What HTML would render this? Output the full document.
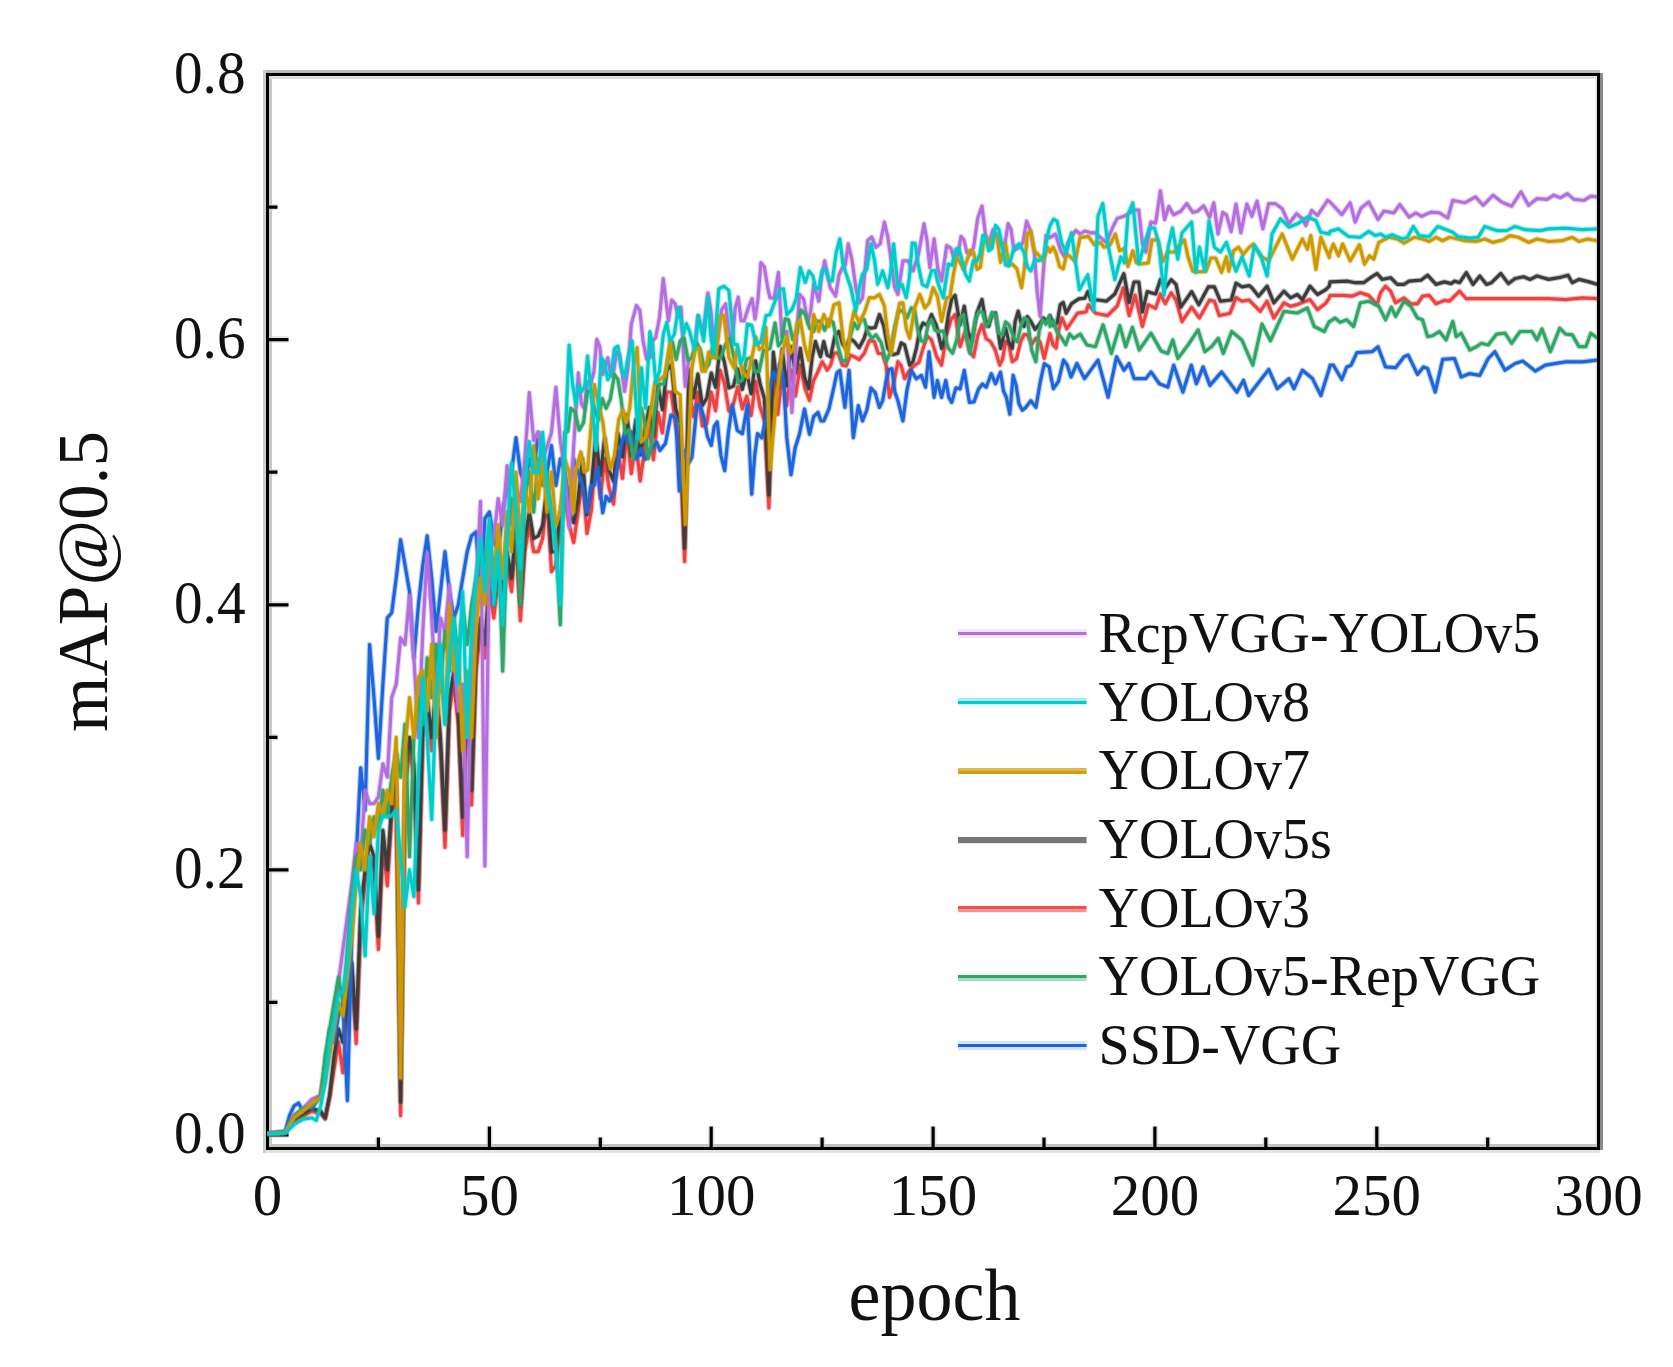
<!DOCTYPE html>
<html><head><meta charset="utf-8"><title>mAP@0.5 vs epoch</title>
<style>
html,body{margin:0;padding:0;background:#fff;}
body{width:1673px;height:1367px;overflow:hidden;}
svg{display:block;}
text{font-family:"Liberation Serif","Times New Roman",serif;fill:#111;}
</style></head><body>
<svg width="1673" height="1367" viewBox="0 0 1673 1367">
<rect x="0" y="0" width="1673" height="1367" fill="#ffffff"/>

<defs><clipPath id="pc"><rect x="266" y="76" width="1331" height="1071"/></clipPath></defs>
<rect x="263" y="70" width="3" height="1083" fill="#cdcdcd"/>
<rect x="269" y="76" width="3" height="1071" fill="#c8c8c8"/>
<rect x="266" y="70" width="1334" height="3" fill="#bbbbbb"/>
<rect x="269" y="76" width="1328" height="3" fill="#dddddd"/>
<rect x="1600" y="73" width="3" height="1077" fill="#8a8a8a"/>
<rect x="1595.5" y="76" width="1.5" height="1071" fill="#e4e4e4"/>
<rect x="269" y="1144" width="1328" height="3" fill="#c2c2c2"/>
<rect x="266" y="1150" width="1334" height="3" fill="#e2e2e2"/>
<path d="M267.5 1135.0 h21 M267.5 1002.4 h10 M267.5 869.9 h21 M267.5 737.3 h10 M267.5 604.8 h21 M267.5 472.2 h10 M267.5 339.6 h21 M267.5 207.1 h10 M378.4 1148.5 v-11 M489.4 1148.5 v-22 M600.3 1148.5 v-11 M711.2 1148.5 v-22 M822.1 1148.5 v-11 M933.1 1148.5 v-22 M1044.0 1148.5 v-11 M1154.9 1148.5 v-22 M1265.8 1148.5 v-11 M1376.8 1148.5 v-22 M1487.7 1148.5 v-11" stroke="#cfcfcf" stroke-width="6.5" fill="none" opacity="0.6"/>
<path d="M267.5 1135.0 h21 M267.5 1002.4 h10 M267.5 869.9 h21 M267.5 737.3 h10 M267.5 604.8 h21 M267.5 472.2 h10 M267.5 339.6 h21 M267.5 207.1 h10 M378.4 1148.5 v-11 M489.4 1148.5 v-22 M600.3 1148.5 v-11 M711.2 1148.5 v-22 M822.1 1148.5 v-11 M933.1 1148.5 v-22 M1044.0 1148.5 v-11 M1154.9 1148.5 v-22 M1265.8 1148.5 v-11 M1376.8 1148.5 v-22 M1487.7 1148.5 v-11" stroke="#000" stroke-width="3.2" fill="none"/>
<rect x="267.5" y="74.5" width="1331.0" height="1074.0" fill="none" stroke="#000" stroke-width="3"/>
<g clip-path="url(#pc)">
<polyline points="267.5,1133.7 285.2,1132.6 294.1,1121.7 303.0,1116.4 311.9,1111.1 320.7,1113.8 325.2,1119.1 329.6,1097.9 334.1,1068.7 338.5,1042.2 342.9,1072.7 347.4,1015.7 351.8,975.9 356.2,1043.5 360.7,922.9 365.1,883.1 369.6,856.6 374.0,869.9 378.4,949.4 382.9,843.4 387.3,885.8 391.7,816.9 396.2,790.3 400.6,1115.5 405.0,790.3 409.5,750.6 413.9,777.1 418.4,903.0 422.8,737.3 427.2,710.8 431.7,750.6 436.1,697.6 440.5,750.6 445.0,847.3 449.4,710.8 453.9,684.3 458.3,724.1 462.7,835.4 467.2,697.6 471.6,804.9 476.0,671.0 480.5,631.3 484.9,657.8 489.4,591.5 493.8,618.0 498.2,578.2 502.7,604.8 507.1,565.0 511.5,591.5 516.0,538.5 520.4,620.7 524.8,551.7 529.3,525.2 533.7,551.7 538.2,551.7 542.6,538.5 547.0,498.7 551.5,571.6 555.9,565.0 560.3,525.2 564.8,498.7 569.2,525.2 573.7,542.5 578.1,512.0 582.5,479.4 587.0,533.5 591.4,509.7 595.8,453.6 600.3,498.3 604.7,458.7 609.1,488.2 613.6,504.1 618.0,451.0 622.5,478.4 626.9,432.7 631.3,473.5 635.8,441.3 640.2,481.0 644.6,450.3 649.1,427.3 653.5,459.7 658.0,412.7 662.4,432.9 666.8,392.0 671.3,392.4 675.7,426.3 680.1,448.8 684.6,561.5 689.0,390.1 693.5,416.7 697.9,392.6 702.3,426.0 706.8,423.9 711.2,392.1 715.6,410.6 720.1,370.3 724.5,383.7 728.9,411.1 733.4,404.0 737.8,386.9 742.3,408.8 746.7,396.2 751.1,415.4 755.6,381.5 760.0,406.8 764.4,420.8 768.9,508.0 773.3,372.6 777.8,414.4 782.2,373.8 786.6,405.6 791.1,370.1 795.5,396.0 800.3,365.1 804.9,388.3 809.5,400.4 813.3,381.4 817.1,373.5 822.2,361.7 827.2,370.1 830.6,365.3 833.9,353.3 838.1,352.8 842.4,365.1 846.3,366.0 850.2,355.2 854.1,356.7 859.2,359.7 864.2,353.3 869.3,340.6 874.3,341.5 878.3,353.4 882.2,353.6 886.1,365.1 889.5,397.3 893.7,383.5 897.9,361.7 901.2,365.7 904.6,378.6 909.7,370.1 914.7,365.1 918.9,362.6 923.1,348.3 927.3,336.1 931.5,339.9 936.6,356.4 941.6,365.1 946.3,335.7 950.9,319.7 955.1,314.6 960.1,346.6 965.2,331.4 969.4,351.5 973.6,356.7 977.8,335.3 982.0,324.7 986.2,338.6 990.4,341.5 995.1,349.6 999.7,365.1 1002.6,359.0 1005.6,341.5 1008.9,345.0 1012.3,361.7 1016.5,358.7 1020.7,341.5 1024.1,334.5 1027.4,334.8 1031.7,344.1 1035.9,338.2 1040.1,342.1 1044.3,358.4 1049.3,336.5 1050.0,333.6 1053.0,344.9 1056.0,348.0 1059.0,328.4 1062.0,318.0 1066.8,328.8 1077.6,313.2 1086.0,312.0 1088.4,304.8 1095.6,313.2 1107.6,315.6 1117.2,306.0 1123.2,288.0 1129.2,315.6 1135.2,295.2 1142.4,326.4 1148.4,304.8 1155.6,308.4 1160.4,294.0 1165.2,303.6 1171.2,292.8 1176.0,300.0 1182.0,321.6 1191.6,307.2 1199.4,318.0 1209.6,300.0 1214.4,301.2 1219.2,315.6 1230.0,313.2 1236.0,297.6 1242.0,301.2 1249.2,300.0 1251.9,302.9 1260.3,311.3 1267.1,301.2 1273.8,318.1 1283.9,302.9 1290.6,306.3 1297.3,304.6 1310.0,299.6 1317.5,309.7 1326.0,302.9 1329.3,297.9 1330.0,295.4 1343.5,295.4 1351.9,296.2 1360.3,292.8 1368.7,295.4 1377.1,304.6 1380.5,292.8 1385.5,286.1 1390.6,291.2 1395.6,302.9 1404.0,297.9 1410.8,303.8 1417.5,303.8 1422.5,296.2 1429.3,295.4 1436.0,303.8 1444.4,300.4 1449.5,301.2 1459.6,291.2 1466.3,298.7 1481.4,298.7 1498.3,298.7 1515.1,298.7 1531.9,298.7 1548.7,298.7 1565.6,299.6 1582.4,297.9 1597.5,298.7" fill="none" stroke="#f04040" stroke-width="5.4" stroke-opacity="0.33" stroke-linejoin="round"/>
<polyline points="267.5,1133.7 285.2,1132.6 294.1,1121.7 303.0,1116.4 311.9,1111.1 320.7,1113.8 325.2,1119.1 329.6,1097.9 334.1,1068.7 338.5,1042.2 342.9,1072.7 347.4,1015.7 351.8,975.9 356.2,1043.5 360.7,922.9 365.1,883.1 369.6,856.6 374.0,869.9 378.4,949.4 382.9,843.4 387.3,885.8 391.7,816.9 396.2,790.3 400.6,1115.5 405.0,790.3 409.5,750.6 413.9,777.1 418.4,903.0 422.8,737.3 427.2,710.8 431.7,750.6 436.1,697.6 440.5,750.6 445.0,847.3 449.4,710.8 453.9,684.3 458.3,724.1 462.7,835.4 467.2,697.6 471.6,804.9 476.0,671.0 480.5,631.3 484.9,657.8 489.4,591.5 493.8,618.0 498.2,578.2 502.7,604.8 507.1,565.0 511.5,591.5 516.0,538.5 520.4,620.7 524.8,551.7 529.3,525.2 533.7,551.7 538.2,551.7 542.6,538.5 547.0,498.7 551.5,571.6 555.9,565.0 560.3,525.2 564.8,498.7 569.2,525.2 573.7,542.5 578.1,512.0 582.5,479.4 587.0,533.5 591.4,509.7 595.8,453.6 600.3,498.3 604.7,458.7 609.1,488.2 613.6,504.1 618.0,451.0 622.5,478.4 626.9,432.7 631.3,473.5 635.8,441.3 640.2,481.0 644.6,450.3 649.1,427.3 653.5,459.7 658.0,412.7 662.4,432.9 666.8,392.0 671.3,392.4 675.7,426.3 680.1,448.8 684.6,561.5 689.0,390.1 693.5,416.7 697.9,392.6 702.3,426.0 706.8,423.9 711.2,392.1 715.6,410.6 720.1,370.3 724.5,383.7 728.9,411.1 733.4,404.0 737.8,386.9 742.3,408.8 746.7,396.2 751.1,415.4 755.6,381.5 760.0,406.8 764.4,420.8 768.9,508.0 773.3,372.6 777.8,414.4 782.2,373.8 786.6,405.6 791.1,370.1 795.5,396.0 800.3,365.1 804.9,388.3 809.5,400.4 813.3,381.4 817.1,373.5 822.2,361.7 827.2,370.1 830.6,365.3 833.9,353.3 838.1,352.8 842.4,365.1 846.3,366.0 850.2,355.2 854.1,356.7 859.2,359.7 864.2,353.3 869.3,340.6 874.3,341.5 878.3,353.4 882.2,353.6 886.1,365.1 889.5,397.3 893.7,383.5 897.9,361.7 901.2,365.7 904.6,378.6 909.7,370.1 914.7,365.1 918.9,362.6 923.1,348.3 927.3,336.1 931.5,339.9 936.6,356.4 941.6,365.1 946.3,335.7 950.9,319.7 955.1,314.6 960.1,346.6 965.2,331.4 969.4,351.5 973.6,356.7 977.8,335.3 982.0,324.7 986.2,338.6 990.4,341.5 995.1,349.6 999.7,365.1 1002.6,359.0 1005.6,341.5 1008.9,345.0 1012.3,361.7 1016.5,358.7 1020.7,341.5 1024.1,334.5 1027.4,334.8 1031.7,344.1 1035.9,338.2 1040.1,342.1 1044.3,358.4 1049.3,336.5 1050.0,333.6 1053.0,344.9 1056.0,348.0 1059.0,328.4 1062.0,318.0 1066.8,328.8 1077.6,313.2 1086.0,312.0 1088.4,304.8 1095.6,313.2 1107.6,315.6 1117.2,306.0 1123.2,288.0 1129.2,315.6 1135.2,295.2 1142.4,326.4 1148.4,304.8 1155.6,308.4 1160.4,294.0 1165.2,303.6 1171.2,292.8 1176.0,300.0 1182.0,321.6 1191.6,307.2 1199.4,318.0 1209.6,300.0 1214.4,301.2 1219.2,315.6 1230.0,313.2 1236.0,297.6 1242.0,301.2 1249.2,300.0 1251.9,302.9 1260.3,311.3 1267.1,301.2 1273.8,318.1 1283.9,302.9 1290.6,306.3 1297.3,304.6 1310.0,299.6 1317.5,309.7 1326.0,302.9 1329.3,297.9 1330.0,295.4 1343.5,295.4 1351.9,296.2 1360.3,292.8 1368.7,295.4 1377.1,304.6 1380.5,292.8 1385.5,286.1 1390.6,291.2 1395.6,302.9 1404.0,297.9 1410.8,303.8 1417.5,303.8 1422.5,296.2 1429.3,295.4 1436.0,303.8 1444.4,300.4 1449.5,301.2 1459.6,291.2 1466.3,298.7 1481.4,298.7 1498.3,298.7 1515.1,298.7 1531.9,298.7 1548.7,298.7 1565.6,299.6 1582.4,297.9 1597.5,298.7" fill="none" stroke="#f04040" stroke-width="3.2" stroke-linejoin="round" stroke-linecap="butt"/>
<polyline points="267.5,1133.7 285.2,1132.6 294.1,1119.1 303.0,1113.8 311.9,1108.5 320.7,1111.1 325.2,1117.8 329.6,1095.2 334.1,1055.5 338.5,1029.0 342.9,1042.2 347.4,1002.4 351.8,962.7 356.2,1029.0 360.7,909.6 365.1,869.9 369.6,843.4 374.0,856.6 378.4,936.2 382.9,830.1 387.3,869.9 391.7,803.6 396.2,777.1 400.6,1101.9 405.0,777.1 409.5,737.3 413.9,763.8 418.4,889.8 422.8,724.1 427.2,697.6 431.7,737.3 436.1,684.3 440.5,737.3 445.0,830.1 449.4,697.6 453.9,671.0 458.3,710.8 462.7,816.9 467.2,684.3 471.6,790.3 476.0,657.8 480.5,618.0 484.9,644.5 489.4,578.2 493.8,604.8 498.2,565.0 502.7,591.5 507.1,551.7 511.5,578.2 516.0,525.2 520.4,604.8 524.8,538.5 529.3,512.0 533.7,538.5 538.2,535.8 542.6,525.2 547.0,485.5 551.5,551.7 555.9,551.7 560.3,512.0 564.8,485.5 569.2,512.0 573.7,522.6 578.1,498.7 582.5,458.8 587.0,514.6 591.4,485.6 595.8,435.6 600.3,475.4 604.7,437.5 609.1,470.3 613.6,481.5 618.0,433.3 622.5,456.6 626.9,414.8 631.3,455.3 635.8,419.6 640.2,455.0 644.6,431.7 649.1,407.7 653.5,435.8 658.0,385.4 662.4,409.6 666.8,370.6 671.3,364.8 675.7,408.6 680.1,422.4 684.6,548.0 689.0,369.8 693.5,398.0 697.9,374.1 702.3,405.5 706.8,398.0 711.2,373.0 715.6,387.2 720.1,346.3 724.5,362.6 728.9,388.0 733.4,386.1 737.8,369.0 742.3,389.4 746.7,371.8 751.1,393.7 755.6,360.9 760.0,383.4 764.4,398.7 768.9,494.7 773.3,352.2 777.8,388.7 782.2,349.2 786.6,385.8 791.1,346.8 795.5,373.2 800.3,348.3 804.5,376.8 808.7,388.6 812.1,357.4 815.4,341.5 820.5,356.7 823.8,341.5 827.2,355.1 830.6,356.7 834.8,336.3 839.0,331.4 842.4,343.6 845.7,348.3 849.9,338.4 854.1,341.5 859.2,347.7 864.2,338.2 867.6,327.3 871.0,328.1 875.2,327.5 879.4,314.6 883.6,325.3 887.8,348.3 892.8,354.7 897.9,353.3 901.2,342.9 904.6,344.9 909.7,365.1 913.0,361.3 916.4,348.3 919.8,329.9 923.1,323.0 927.3,325.5 931.5,314.6 936.6,326.0 941.6,348.3 945.0,337.6 948.4,314.6 951.7,298.8 955.1,295.3 960.1,324.7 964.3,306.2 968.1,331.9 971.9,341.5 977.0,312.4 982.0,299.5 985.4,319.8 988.7,326.4 992.1,314.0 995.5,312.9 1000.5,348.3 1005.6,328.1 1008.9,342.0 1012.3,348.3 1015.2,321.4 1018.2,311.2 1021.1,322.8 1024.1,326.4 1027.4,316.6 1030.8,321.3 1035.0,329.3 1039.2,324.7 1043.4,318.0 1047.6,321.3 1050.0,315.6 1053.6,325.4 1057.2,322.8 1060.2,304.8 1063.2,302.4 1066.2,313.2 1071.6,303.6 1078.8,298.8 1084.8,298.2 1087.8,291.6 1090.8,300.0 1098.0,300.0 1106.4,301.2 1114.8,294.0 1119.6,283.2 1123.8,273.6 1129.2,302.4 1134.0,282.0 1138.8,282.0 1142.4,312.0 1147.2,291.6 1155.6,294.0 1160.4,279.6 1165.2,288.0 1171.2,279.6 1176.0,284.4 1180.8,307.2 1191.6,291.6 1198.8,304.8 1208.4,286.8 1214.4,286.8 1220.4,301.2 1231.2,300.0 1236.0,283.2 1242.0,286.8 1249.2,285.6 1251.9,287.8 1258.6,296.2 1267.1,286.1 1273.8,302.9 1283.9,291.2 1290.6,297.9 1297.3,294.5 1302.4,299.6 1310.0,286.1 1317.5,294.5 1326.0,289.5 1329.3,286.1 1330.0,281.9 1346.8,281.1 1355.2,282.7 1363.7,282.7 1370.4,277.7 1377.1,273.5 1382.2,279.4 1390.6,277.7 1397.3,284.4 1404.0,284.4 1409.1,281.1 1420.9,280.2 1427.6,275.2 1436.0,284.4 1444.4,281.9 1451.2,283.6 1454.5,281.1 1459.6,282.7 1466.3,272.6 1473.0,284.4 1479.8,276.0 1486.5,284.4 1491.5,282.7 1500.8,273.5 1508.4,283.6 1515.1,278.5 1523.5,276.8 1530.2,279.4 1537.0,276.0 1548.7,279.4 1558.8,277.7 1568.1,275.2 1572.3,282.7 1579.0,279.4 1589.1,281.9 1597.5,284.4" fill="none" stroke="#3c3c3c" stroke-width="5.4" stroke-opacity="0.33" stroke-linejoin="round"/>
<polyline points="267.5,1133.7 285.2,1132.6 294.1,1119.1 303.0,1113.8 311.9,1108.5 320.7,1111.1 325.2,1117.8 329.6,1095.2 334.1,1055.5 338.5,1029.0 342.9,1042.2 347.4,1002.4 351.8,962.7 356.2,1029.0 360.7,909.6 365.1,869.9 369.6,843.4 374.0,856.6 378.4,936.2 382.9,830.1 387.3,869.9 391.7,803.6 396.2,777.1 400.6,1101.9 405.0,777.1 409.5,737.3 413.9,763.8 418.4,889.8 422.8,724.1 427.2,697.6 431.7,737.3 436.1,684.3 440.5,737.3 445.0,830.1 449.4,697.6 453.9,671.0 458.3,710.8 462.7,816.9 467.2,684.3 471.6,790.3 476.0,657.8 480.5,618.0 484.9,644.5 489.4,578.2 493.8,604.8 498.2,565.0 502.7,591.5 507.1,551.7 511.5,578.2 516.0,525.2 520.4,604.8 524.8,538.5 529.3,512.0 533.7,538.5 538.2,535.8 542.6,525.2 547.0,485.5 551.5,551.7 555.9,551.7 560.3,512.0 564.8,485.5 569.2,512.0 573.7,522.6 578.1,498.7 582.5,458.8 587.0,514.6 591.4,485.6 595.8,435.6 600.3,475.4 604.7,437.5 609.1,470.3 613.6,481.5 618.0,433.3 622.5,456.6 626.9,414.8 631.3,455.3 635.8,419.6 640.2,455.0 644.6,431.7 649.1,407.7 653.5,435.8 658.0,385.4 662.4,409.6 666.8,370.6 671.3,364.8 675.7,408.6 680.1,422.4 684.6,548.0 689.0,369.8 693.5,398.0 697.9,374.1 702.3,405.5 706.8,398.0 711.2,373.0 715.6,387.2 720.1,346.3 724.5,362.6 728.9,388.0 733.4,386.1 737.8,369.0 742.3,389.4 746.7,371.8 751.1,393.7 755.6,360.9 760.0,383.4 764.4,398.7 768.9,494.7 773.3,352.2 777.8,388.7 782.2,349.2 786.6,385.8 791.1,346.8 795.5,373.2 800.3,348.3 804.5,376.8 808.7,388.6 812.1,357.4 815.4,341.5 820.5,356.7 823.8,341.5 827.2,355.1 830.6,356.7 834.8,336.3 839.0,331.4 842.4,343.6 845.7,348.3 849.9,338.4 854.1,341.5 859.2,347.7 864.2,338.2 867.6,327.3 871.0,328.1 875.2,327.5 879.4,314.6 883.6,325.3 887.8,348.3 892.8,354.7 897.9,353.3 901.2,342.9 904.6,344.9 909.7,365.1 913.0,361.3 916.4,348.3 919.8,329.9 923.1,323.0 927.3,325.5 931.5,314.6 936.6,326.0 941.6,348.3 945.0,337.6 948.4,314.6 951.7,298.8 955.1,295.3 960.1,324.7 964.3,306.2 968.1,331.9 971.9,341.5 977.0,312.4 982.0,299.5 985.4,319.8 988.7,326.4 992.1,314.0 995.5,312.9 1000.5,348.3 1005.6,328.1 1008.9,342.0 1012.3,348.3 1015.2,321.4 1018.2,311.2 1021.1,322.8 1024.1,326.4 1027.4,316.6 1030.8,321.3 1035.0,329.3 1039.2,324.7 1043.4,318.0 1047.6,321.3 1050.0,315.6 1053.6,325.4 1057.2,322.8 1060.2,304.8 1063.2,302.4 1066.2,313.2 1071.6,303.6 1078.8,298.8 1084.8,298.2 1087.8,291.6 1090.8,300.0 1098.0,300.0 1106.4,301.2 1114.8,294.0 1119.6,283.2 1123.8,273.6 1129.2,302.4 1134.0,282.0 1138.8,282.0 1142.4,312.0 1147.2,291.6 1155.6,294.0 1160.4,279.6 1165.2,288.0 1171.2,279.6 1176.0,284.4 1180.8,307.2 1191.6,291.6 1198.8,304.8 1208.4,286.8 1214.4,286.8 1220.4,301.2 1231.2,300.0 1236.0,283.2 1242.0,286.8 1249.2,285.6 1251.9,287.8 1258.6,296.2 1267.1,286.1 1273.8,302.9 1283.9,291.2 1290.6,297.9 1297.3,294.5 1302.4,299.6 1310.0,286.1 1317.5,294.5 1326.0,289.5 1329.3,286.1 1330.0,281.9 1346.8,281.1 1355.2,282.7 1363.7,282.7 1370.4,277.7 1377.1,273.5 1382.2,279.4 1390.6,277.7 1397.3,284.4 1404.0,284.4 1409.1,281.1 1420.9,280.2 1427.6,275.2 1436.0,284.4 1444.4,281.9 1451.2,283.6 1454.5,281.1 1459.6,282.7 1466.3,272.6 1473.0,284.4 1479.8,276.0 1486.5,284.4 1491.5,282.7 1500.8,273.5 1508.4,283.6 1515.1,278.5 1523.5,276.8 1530.2,279.4 1537.0,276.0 1548.7,279.4 1558.8,277.7 1568.1,275.2 1572.3,282.7 1579.0,279.4 1589.1,281.9 1597.5,284.4" fill="none" stroke="#3c3c3c" stroke-width="3.2" stroke-linejoin="round" stroke-linecap="butt"/>
<polyline points="267.5,1133.7 285.2,1131.0 289.7,1115.1 294.1,1105.8 298.6,1103.2 303.0,1111.1 307.4,1105.8 311.9,1108.5 320.7,1095.2 325.2,1068.7 329.6,1029.0 334.1,1042.2 338.5,1015.7 342.9,1002.4 347.4,1100.5 351.8,936.2 356.2,856.6 360.7,767.8 365.1,810.2 369.6,644.5 374.0,697.6 378.4,758.5 382.9,684.3 387.3,618.0 391.7,612.7 396.2,578.2 400.6,539.8 405.0,565.0 409.5,591.5 413.9,657.8 418.4,604.8 422.8,565.0 427.2,535.8 431.7,578.2 436.1,631.3 440.5,591.5 445.0,551.7 449.4,591.5 453.9,618.0 458.3,604.8 462.7,578.2 467.2,551.7 471.6,535.8 476.0,531.9 480.5,591.5 484.9,518.6 489.4,512.0 493.8,538.5 498.2,551.7 502.7,512.0 507.1,485.5 511.5,472.2 516.0,437.7 520.4,472.2 524.8,485.5 529.3,458.9 533.7,472.2 538.2,432.4 542.6,458.9 547.0,472.2 551.5,445.7 555.9,485.5 560.3,458.9 564.8,472.2 569.2,498.7 573.7,458.9 578.1,472.2 582.5,485.5 587.0,512.0 591.4,485.5 594.5,484.9 597.7,467.3 602.7,512.7 606.1,496.4 609.5,501.0 613.7,492.2 617.9,463.9 621.2,444.3 624.6,433.7 628.0,442.3 631.3,432.0 636.4,458.9 640.9,448.8 645.4,459.1 649.9,450.5 654.1,445.4 657.0,442.7 659.9,450.5 665.4,443.6 670.9,415.1 675.9,418.5 679.3,490.9 682.2,460.7 685.2,450.5 688.6,463.1 691.9,457.2 697.0,405.0 700.3,405.3 703.7,416.8 707.5,436.7 711.3,445.4 714.2,426.4 717.2,421.9 720.9,455.3 724.7,470.7 728.5,431.7 732.3,405.0 737.3,430.5 742.4,433.7 747.4,405.0 751.7,494.2 754.6,456.4 757.5,433.7 761.7,437.8 766.0,418.5 769.7,388.2 773.4,372.1 776.7,378.5 780.1,363.7 783.5,380.5 786.8,437.7 791.0,474.7 795.2,447.8 799.4,434.3 804.5,409.1 809.5,434.3 813.7,416.5 818.0,412.4 820.9,421.0 823.8,420.9 828.9,409.1 833.9,387.2 836.9,372.7 839.8,370.4 844.9,407.4 849.1,370.4 853.3,437.7 858.3,405.7 862.5,420.9 866.8,410.1 871.0,388.1 875.2,392.7 879.4,407.4 882.7,400.6 886.1,380.5 889.0,369.4 892.0,368.7 894.9,392.1 897.9,400.7 902.9,420.9 907.1,389.3 911.3,370.4 916.4,378.8 921.4,375.4 925.6,387.2 929.0,351.9 934.1,397.3 937.4,380.5 941.6,397.3 945.8,380.5 948.8,397.4 951.7,402.4 955.9,387.9 960.1,388.9 964.3,370.4 969.4,402.4 974.0,401.9 978.6,388.9 982.4,384.0 986.2,387.2 991.3,373.7 995.5,383.8 1000.5,372.1 1003.5,391.0 1006.4,397.3 1009.8,414.1 1013.1,375.4 1016.1,385.2 1019.0,404.0 1022.4,410.2 1025.8,407.4 1030.8,400.7 1035.9,407.4 1040.1,382.7 1044.3,363.7 1049.3,367.0 1050.0,371.9 1053.4,388.7 1058.4,381.4 1063.5,360.1 1067.2,365.0 1071.0,377.0 1076.9,363.5 1084.5,378.6 1098.0,360.1 1108.1,397.2 1116.5,356.8 1124.0,370.2 1129.1,363.5 1134.1,378.6 1145.9,378.6 1151.0,371.9 1159.4,383.7 1167.8,387.1 1173.7,365.2 1182.9,392.1 1191.3,365.2 1196.4,383.7 1203.1,366.9 1209.9,385.4 1221.6,371.9 1236.8,392.1 1243.5,380.3 1248.6,395.5 1268.7,369.4 1277.2,388.7 1288.9,378.6 1294.0,388.7 1302.4,370.2 1312.5,378.6 1320.9,395.5 1329.3,368.6 1330.0,365.2 1333.4,365.2 1341.8,379.5 1346.8,366.9 1351.0,365.2 1356.9,352.6 1372.1,351.7 1378.0,346.7 1385.5,366.9 1395.6,367.7 1404.0,356.8 1408.2,355.1 1417.5,374.4 1423.4,366.9 1427.6,368.6 1435.2,392.1 1442.7,359.3 1454.5,358.5 1461.2,377.0 1469.7,373.6 1479.8,375.3 1488.2,358.5 1494.9,351.7 1505.0,370.2 1515.1,363.5 1522.7,361.0 1535.3,371.1 1545.4,365.2 1565.6,361.8 1582.4,361.8 1597.5,360.1" fill="none" stroke="#1c65dc" stroke-width="5.4" stroke-opacity="0.33" stroke-linejoin="round"/>
<polyline points="267.5,1133.7 285.2,1131.0 289.7,1115.1 294.1,1105.8 298.6,1103.2 303.0,1111.1 307.4,1105.8 311.9,1108.5 320.7,1095.2 325.2,1068.7 329.6,1029.0 334.1,1042.2 338.5,1015.7 342.9,1002.4 347.4,1100.5 351.8,936.2 356.2,856.6 360.7,767.8 365.1,810.2 369.6,644.5 374.0,697.6 378.4,758.5 382.9,684.3 387.3,618.0 391.7,612.7 396.2,578.2 400.6,539.8 405.0,565.0 409.5,591.5 413.9,657.8 418.4,604.8 422.8,565.0 427.2,535.8 431.7,578.2 436.1,631.3 440.5,591.5 445.0,551.7 449.4,591.5 453.9,618.0 458.3,604.8 462.7,578.2 467.2,551.7 471.6,535.8 476.0,531.9 480.5,591.5 484.9,518.6 489.4,512.0 493.8,538.5 498.2,551.7 502.7,512.0 507.1,485.5 511.5,472.2 516.0,437.7 520.4,472.2 524.8,485.5 529.3,458.9 533.7,472.2 538.2,432.4 542.6,458.9 547.0,472.2 551.5,445.7 555.9,485.5 560.3,458.9 564.8,472.2 569.2,498.7 573.7,458.9 578.1,472.2 582.5,485.5 587.0,512.0 591.4,485.5 594.5,484.9 597.7,467.3 602.7,512.7 606.1,496.4 609.5,501.0 613.7,492.2 617.9,463.9 621.2,444.3 624.6,433.7 628.0,442.3 631.3,432.0 636.4,458.9 640.9,448.8 645.4,459.1 649.9,450.5 654.1,445.4 657.0,442.7 659.9,450.5 665.4,443.6 670.9,415.1 675.9,418.5 679.3,490.9 682.2,460.7 685.2,450.5 688.6,463.1 691.9,457.2 697.0,405.0 700.3,405.3 703.7,416.8 707.5,436.7 711.3,445.4 714.2,426.4 717.2,421.9 720.9,455.3 724.7,470.7 728.5,431.7 732.3,405.0 737.3,430.5 742.4,433.7 747.4,405.0 751.7,494.2 754.6,456.4 757.5,433.7 761.7,437.8 766.0,418.5 769.7,388.2 773.4,372.1 776.7,378.5 780.1,363.7 783.5,380.5 786.8,437.7 791.0,474.7 795.2,447.8 799.4,434.3 804.5,409.1 809.5,434.3 813.7,416.5 818.0,412.4 820.9,421.0 823.8,420.9 828.9,409.1 833.9,387.2 836.9,372.7 839.8,370.4 844.9,407.4 849.1,370.4 853.3,437.7 858.3,405.7 862.5,420.9 866.8,410.1 871.0,388.1 875.2,392.7 879.4,407.4 882.7,400.6 886.1,380.5 889.0,369.4 892.0,368.7 894.9,392.1 897.9,400.7 902.9,420.9 907.1,389.3 911.3,370.4 916.4,378.8 921.4,375.4 925.6,387.2 929.0,351.9 934.1,397.3 937.4,380.5 941.6,397.3 945.8,380.5 948.8,397.4 951.7,402.4 955.9,387.9 960.1,388.9 964.3,370.4 969.4,402.4 974.0,401.9 978.6,388.9 982.4,384.0 986.2,387.2 991.3,373.7 995.5,383.8 1000.5,372.1 1003.5,391.0 1006.4,397.3 1009.8,414.1 1013.1,375.4 1016.1,385.2 1019.0,404.0 1022.4,410.2 1025.8,407.4 1030.8,400.7 1035.9,407.4 1040.1,382.7 1044.3,363.7 1049.3,367.0 1050.0,371.9 1053.4,388.7 1058.4,381.4 1063.5,360.1 1067.2,365.0 1071.0,377.0 1076.9,363.5 1084.5,378.6 1098.0,360.1 1108.1,397.2 1116.5,356.8 1124.0,370.2 1129.1,363.5 1134.1,378.6 1145.9,378.6 1151.0,371.9 1159.4,383.7 1167.8,387.1 1173.7,365.2 1182.9,392.1 1191.3,365.2 1196.4,383.7 1203.1,366.9 1209.9,385.4 1221.6,371.9 1236.8,392.1 1243.5,380.3 1248.6,395.5 1268.7,369.4 1277.2,388.7 1288.9,378.6 1294.0,388.7 1302.4,370.2 1312.5,378.6 1320.9,395.5 1329.3,368.6 1330.0,365.2 1333.4,365.2 1341.8,379.5 1346.8,366.9 1351.0,365.2 1356.9,352.6 1372.1,351.7 1378.0,346.7 1385.5,366.9 1395.6,367.7 1404.0,356.8 1408.2,355.1 1417.5,374.4 1423.4,366.9 1427.6,368.6 1435.2,392.1 1442.7,359.3 1454.5,358.5 1461.2,377.0 1469.7,373.6 1479.8,375.3 1488.2,358.5 1494.9,351.7 1505.0,370.2 1515.1,363.5 1522.7,361.0 1535.3,371.1 1545.4,365.2 1565.6,361.8 1582.4,361.8 1597.5,360.1" fill="none" stroke="#1c65dc" stroke-width="3.2" stroke-linejoin="round" stroke-linecap="butt"/>
<polyline points="267.5,1133.7 285.2,1132.6 294.1,1115.1 303.0,1108.5 311.9,1099.2 320.7,1095.2 325.2,1068.7 334.1,1015.7 342.9,949.4 351.8,883.1 356.2,843.4 360.7,856.6 365.1,790.3 369.6,803.6 374.0,803.6 378.4,797.0 382.9,763.8 387.3,777.1 391.7,697.6 396.2,684.3 400.6,637.9 405.0,644.5 409.5,595.5 413.9,657.8 418.4,737.3 422.8,631.3 427.2,553.1 431.7,618.0 436.1,697.6 440.5,618.0 445.0,631.3 449.4,584.9 453.9,657.8 458.3,710.8 462.7,684.3 467.2,856.6 471.6,657.8 476.0,591.5 480.5,501.4 484.9,865.9 489.4,551.7 493.8,538.5 498.2,498.7 502.7,525.2 507.1,465.6 511.5,525.2 516.0,485.5 520.4,501.4 524.8,458.9 529.3,392.7 533.7,440.4 538.2,432.4 542.6,458.9 547.0,447.0 551.5,432.4 555.9,387.4 560.3,440.4 564.8,472.2 569.2,527.9 573.7,445.7 578.3,372.9 581.3,403.7 584.2,408.3 587.6,381.5 591.0,383.0 593.9,371.8 596.8,339.3 599.8,346.7 602.7,374.6 607.8,357.8 610.7,376.2 613.7,371.2 616.6,351.6 619.6,354.4 624.6,391.4 628.0,367.5 631.3,324.1 636.4,305.6 639.8,310.2 643.1,341.0 646.5,359.0 649.9,357.8 652.8,340.7 655.7,337.6 659.5,317.5 663.3,278.7 668.4,320.8 671.7,300.0 675.1,303.9 678.0,316.8 681.0,307.3 685.2,386.4 688.6,360.0 691.9,357.8 694.9,349.4 697.8,315.7 702.9,334.2 707.9,293.0 710.8,309.9 713.8,344.3 717.7,340.1 721.6,309.8 725.6,303.9 728.9,332.1 732.3,341.0 735.2,308.5 738.2,297.2 741.1,320.6 744.1,320.8 749.1,305.6 752.1,298.6 755.0,319.1 758.0,298.9 760.9,262.7 764.3,266.8 767.6,287.1 770.0,297.8 774.2,298.0 778.4,272.5 781.8,336.5 786.8,331.4 791.9,412.4 799.4,294.4 803.7,299.0 807.9,323.0 810.8,310.4 813.7,284.3 818.8,301.2 821.7,276.4 824.7,260.8 830.2,287.7 835.6,296.1 839.0,275.0 842.4,267.5 845.3,264.9 848.2,243.9 852.0,260.0 855.8,287.7 859.2,302.9 862.5,297.8 867.6,240.6 871.8,237.1 876.0,247.3 880.2,243.8 884.4,222.1 887.8,236.9 891.2,260.8 894.5,286.9 897.9,294.4 902.9,260.8 908.0,260.9 913.0,270.9 918.5,254.0 924.0,223.7 926.9,239.9 929.9,267.5 934.1,238.9 937.8,268.3 941.6,281.0 946.7,245.6 950.9,248.2 955.1,262.4 958.0,253.8 961.0,236.4 963.9,239.9 966.9,252.4 970.2,254.6 973.6,247.3 977.8,217.8 982.0,206.1 985.4,234.2 988.7,243.9 993.0,229.6 997.2,235.5 1002.2,247.3 1005.2,241.9 1008.1,223.7 1011.0,229.1 1014.0,250.7 1019.0,247.3 1022.8,243.0 1026.6,221.2 1030.4,230.6 1034.2,250.7 1037.1,290.7 1040.1,316.3 1046.0,235.5 1050.0,237.6 1055.4,234.1 1060.8,250.8 1064.4,256.6 1068.0,242.4 1075.8,230.4 1080.0,234.0 1084.8,231.0 1090.8,232.8 1095.6,232.8 1100.4,237.6 1106.4,242.4 1112.4,228.0 1117.2,218.4 1124.4,216.0 1134.0,210.0 1138.8,210.0 1142.4,243.6 1146.0,252.0 1150.8,222.0 1155.6,223.2 1160.4,190.8 1164.6,219.6 1168.8,206.4 1173.6,214.8 1180.8,211.2 1186.8,203.4 1192.8,212.4 1197.6,211.2 1203.6,205.8 1209.6,217.2 1213.8,202.8 1218.0,234.0 1222.8,212.4 1226.4,214.8 1231.2,231.6 1236.0,204.0 1240.8,232.8 1246.8,204.0 1251.9,216.3 1257.0,201.1 1262.9,228.9 1268.7,203.7 1275.5,203.7 1282.2,208.7 1288.9,223.8 1296.5,213.7 1302.4,218.8 1305.8,225.5 1311.7,210.4 1317.5,215.4 1327.6,200.3 1330.0,202.0 1341.8,214.6 1350.2,202.8 1355.2,222.2 1361.1,207.9 1368.7,202.0 1378.0,219.6 1383.8,211.2 1393.9,212.9 1399.8,204.5 1409.1,217.1 1415.8,212.9 1421.7,216.3 1431.0,212.1 1439.4,212.9 1447.8,218.0 1452.8,200.3 1464.6,202.8 1475.5,196.9 1483.1,205.3 1493.2,195.2 1501.6,202.0 1511.7,206.2 1521.0,191.9 1528.6,205.3 1537.0,198.6 1547.1,199.4 1553.8,195.2 1560.5,197.8 1567.3,193.6 1574.0,199.4 1584.1,200.3 1590.8,196.1 1597.5,196.9" fill="none" stroke="#b46ee0" stroke-width="5.4" stroke-opacity="0.33" stroke-linejoin="round"/>
<polyline points="267.5,1133.7 285.2,1132.6 294.1,1115.1 303.0,1108.5 311.9,1099.2 320.7,1095.2 325.2,1068.7 334.1,1015.7 342.9,949.4 351.8,883.1 356.2,843.4 360.7,856.6 365.1,790.3 369.6,803.6 374.0,803.6 378.4,797.0 382.9,763.8 387.3,777.1 391.7,697.6 396.2,684.3 400.6,637.9 405.0,644.5 409.5,595.5 413.9,657.8 418.4,737.3 422.8,631.3 427.2,553.1 431.7,618.0 436.1,697.6 440.5,618.0 445.0,631.3 449.4,584.9 453.9,657.8 458.3,710.8 462.7,684.3 467.2,856.6 471.6,657.8 476.0,591.5 480.5,501.4 484.9,865.9 489.4,551.7 493.8,538.5 498.2,498.7 502.7,525.2 507.1,465.6 511.5,525.2 516.0,485.5 520.4,501.4 524.8,458.9 529.3,392.7 533.7,440.4 538.2,432.4 542.6,458.9 547.0,447.0 551.5,432.4 555.9,387.4 560.3,440.4 564.8,472.2 569.2,527.9 573.7,445.7 578.3,372.9 581.3,403.7 584.2,408.3 587.6,381.5 591.0,383.0 593.9,371.8 596.8,339.3 599.8,346.7 602.7,374.6 607.8,357.8 610.7,376.2 613.7,371.2 616.6,351.6 619.6,354.4 624.6,391.4 628.0,367.5 631.3,324.1 636.4,305.6 639.8,310.2 643.1,341.0 646.5,359.0 649.9,357.8 652.8,340.7 655.7,337.6 659.5,317.5 663.3,278.7 668.4,320.8 671.7,300.0 675.1,303.9 678.0,316.8 681.0,307.3 685.2,386.4 688.6,360.0 691.9,357.8 694.9,349.4 697.8,315.7 702.9,334.2 707.9,293.0 710.8,309.9 713.8,344.3 717.7,340.1 721.6,309.8 725.6,303.9 728.9,332.1 732.3,341.0 735.2,308.5 738.2,297.2 741.1,320.6 744.1,320.8 749.1,305.6 752.1,298.6 755.0,319.1 758.0,298.9 760.9,262.7 764.3,266.8 767.6,287.1 770.0,297.8 774.2,298.0 778.4,272.5 781.8,336.5 786.8,331.4 791.9,412.4 799.4,294.4 803.7,299.0 807.9,323.0 810.8,310.4 813.7,284.3 818.8,301.2 821.7,276.4 824.7,260.8 830.2,287.7 835.6,296.1 839.0,275.0 842.4,267.5 845.3,264.9 848.2,243.9 852.0,260.0 855.8,287.7 859.2,302.9 862.5,297.8 867.6,240.6 871.8,237.1 876.0,247.3 880.2,243.8 884.4,222.1 887.8,236.9 891.2,260.8 894.5,286.9 897.9,294.4 902.9,260.8 908.0,260.9 913.0,270.9 918.5,254.0 924.0,223.7 926.9,239.9 929.9,267.5 934.1,238.9 937.8,268.3 941.6,281.0 946.7,245.6 950.9,248.2 955.1,262.4 958.0,253.8 961.0,236.4 963.9,239.9 966.9,252.4 970.2,254.6 973.6,247.3 977.8,217.8 982.0,206.1 985.4,234.2 988.7,243.9 993.0,229.6 997.2,235.5 1002.2,247.3 1005.2,241.9 1008.1,223.7 1011.0,229.1 1014.0,250.7 1019.0,247.3 1022.8,243.0 1026.6,221.2 1030.4,230.6 1034.2,250.7 1037.1,290.7 1040.1,316.3 1046.0,235.5 1050.0,237.6 1055.4,234.1 1060.8,250.8 1064.4,256.6 1068.0,242.4 1075.8,230.4 1080.0,234.0 1084.8,231.0 1090.8,232.8 1095.6,232.8 1100.4,237.6 1106.4,242.4 1112.4,228.0 1117.2,218.4 1124.4,216.0 1134.0,210.0 1138.8,210.0 1142.4,243.6 1146.0,252.0 1150.8,222.0 1155.6,223.2 1160.4,190.8 1164.6,219.6 1168.8,206.4 1173.6,214.8 1180.8,211.2 1186.8,203.4 1192.8,212.4 1197.6,211.2 1203.6,205.8 1209.6,217.2 1213.8,202.8 1218.0,234.0 1222.8,212.4 1226.4,214.8 1231.2,231.6 1236.0,204.0 1240.8,232.8 1246.8,204.0 1251.9,216.3 1257.0,201.1 1262.9,228.9 1268.7,203.7 1275.5,203.7 1282.2,208.7 1288.9,223.8 1296.5,213.7 1302.4,218.8 1305.8,225.5 1311.7,210.4 1317.5,215.4 1327.6,200.3 1330.0,202.0 1341.8,214.6 1350.2,202.8 1355.2,222.2 1361.1,207.9 1368.7,202.0 1378.0,219.6 1383.8,211.2 1393.9,212.9 1399.8,204.5 1409.1,217.1 1415.8,212.9 1421.7,216.3 1431.0,212.1 1439.4,212.9 1447.8,218.0 1452.8,200.3 1464.6,202.8 1475.5,196.9 1483.1,205.3 1493.2,195.2 1501.6,202.0 1511.7,206.2 1521.0,191.9 1528.6,205.3 1537.0,198.6 1547.1,199.4 1553.8,195.2 1560.5,197.8 1567.3,193.6 1574.0,199.4 1584.1,200.3 1590.8,196.1 1597.5,196.9" fill="none" stroke="#b46ee0" stroke-width="3.2" stroke-linejoin="round" stroke-linecap="butt"/>
<polyline points="267.5,1133.7 285.2,1132.6 294.1,1116.4 303.0,1108.5 311.9,1105.8 320.7,1095.2 325.2,1055.5 329.6,1029.0 334.1,1002.4 338.5,977.3 342.9,1002.4 347.4,949.4 351.8,896.4 356.2,856.6 360.7,869.9 365.1,830.1 369.6,843.4 374.0,816.9 378.4,830.1 382.9,790.3 387.3,816.9 391.7,777.1 396.2,750.6 400.6,777.1 405.0,724.1 409.5,856.6 413.9,737.3 418.4,697.6 422.8,724.1 427.2,657.8 431.7,697.6 436.1,644.5 440.5,684.3 445.0,631.3 449.4,671.0 453.9,618.0 458.3,657.8 462.7,604.8 467.2,644.5 471.6,604.8 476.0,578.2 480.5,551.7 484.9,565.0 489.4,525.2 493.8,578.2 498.2,531.9 502.7,671.0 507.1,538.5 511.5,498.7 516.0,525.2 520.4,604.8 524.8,498.7 529.3,472.2 533.7,512.0 538.2,458.9 542.6,485.5 547.0,472.2 551.5,512.0 555.9,538.5 560.3,624.6 564.8,432.4 567.8,431.5 570.8,408.3 575.0,412.0 579.2,430.1 583.4,423.0 587.6,391.4 591.0,392.0 594.3,408.3 598.3,420.0 602.2,398.6 606.1,408.3 610.3,399.1 614.5,374.6 617.9,379.4 621.2,399.9 625.2,433.2 629.1,430.1 633.0,458.7 637.2,440.4 641.4,408.3 644.8,422.9 648.2,458.7 651.5,444.5 654.9,408.3 659.4,384.2 663.9,383.9 668.4,357.8 672.3,341.8 676.2,359.3 680.1,341.0 684.1,338.0 688.0,359.9 691.9,357.8 696.1,341.8 700.3,349.4 704.5,369.8 708.7,364.5 712.1,348.7 715.5,357.8 720.5,358.0 725.6,344.3 729.8,338.2 734.0,357.8 738.2,382.7 742.4,379.7 746.6,359.0 750.8,357.8 755.0,371.9 759.2,371.2 763.4,350.8 767.6,349.4 770.0,348.3 775.0,323.0 778.4,345.7 781.8,341.5 785.1,318.9 788.5,319.7 792.7,339.3 796.9,331.4 801.1,310.0 805.3,314.6 809.5,327.9 813.7,331.4 817.1,321.1 820.5,321.3 824.7,330.2 828.9,319.7 833.1,322.4 837.3,343.2 841.5,359.6 845.7,361.7 849.9,337.2 854.1,323.0 857.5,328.7 860.9,319.7 864.2,319.4 867.6,331.4 871.8,338.4 876.0,334.8 881.1,342.5 886.1,361.7 890.3,352.5 894.5,328.1 898.7,310.3 902.9,311.2 907.1,317.8 911.3,307.9 914.7,310.8 918.1,331.4 921.4,340.9 924.8,341.5 928.2,324.3 931.5,319.7 934.9,330.1 938.3,331.4 943.3,331.1 948.4,348.3 952.6,353.3 956.8,339.9 960.1,318.0 963.5,314.6 966.9,339.6 970.2,353.3 975.3,319.7 979.1,311.3 982.9,312.9 985.8,326.6 988.7,323.0 992.1,312.5 995.5,314.6 998.8,333.1 1002.2,334.8 1005.6,322.0 1008.9,324.7 1014.0,338.2 1017.3,341.7 1020.7,326.4 1024.1,318.1 1027.4,319.7 1031.7,350.4 1035.9,361.7 1039.2,330.9 1042.6,319.7 1046.0,324.2 1049.3,316.3 1050.0,326.5 1053.4,320.5 1056.7,331.5 1061.8,338.3 1065.7,344.6 1069.6,334.0 1073.6,338.3 1080.3,334.1 1087.0,345.0 1095.4,346.7 1103.0,324.8 1111.4,353.4 1119.8,325.6 1125.7,346.7 1132.4,327.3 1139.2,350.0 1151.0,333.2 1161.1,350.9 1167.8,353.4 1172.8,339.9 1177.9,358.5 1188.0,345.0 1198.1,329.9 1204.8,351.7 1211.5,346.7 1218.3,338.3 1223.3,353.4 1231.7,331.5 1241.8,339.9 1252.8,365.2 1262.0,324.0 1270.4,340.8 1283.9,311.3 1297.3,313.0 1307.4,308.0 1314.2,326.5 1324.3,331.5 1329.3,321.4 1330.0,321.4 1335.0,318.1 1340.1,322.3 1346.8,319.8 1353.6,326.5 1360.3,302.9 1368.7,301.2 1378.8,306.3 1385.5,319.8 1391.4,307.1 1395.6,316.4 1404.0,301.2 1410.8,306.3 1417.5,318.1 1422.5,319.8 1427.6,336.6 1432.6,335.7 1439.4,331.5 1446.1,339.9 1452.8,321.4 1456.2,336.6 1461.2,333.2 1469.7,350.0 1476.4,346.7 1481.4,343.3 1488.2,345.0 1496.6,334.1 1505.0,333.2 1511.7,343.3 1520.1,331.5 1531.9,331.5 1537.0,339.9 1542.0,329.0 1550.4,351.7 1559.7,328.2 1565.6,334.1 1572.3,334.9 1579.0,346.7 1585.8,346.7 1590.8,333.2 1597.5,338.3" fill="none" stroke="#2fa566" stroke-width="5.4" stroke-opacity="0.33" stroke-linejoin="round"/>
<polyline points="267.5,1133.7 285.2,1132.6 294.1,1116.4 303.0,1108.5 311.9,1105.8 320.7,1095.2 325.2,1055.5 329.6,1029.0 334.1,1002.4 338.5,977.3 342.9,1002.4 347.4,949.4 351.8,896.4 356.2,856.6 360.7,869.9 365.1,830.1 369.6,843.4 374.0,816.9 378.4,830.1 382.9,790.3 387.3,816.9 391.7,777.1 396.2,750.6 400.6,777.1 405.0,724.1 409.5,856.6 413.9,737.3 418.4,697.6 422.8,724.1 427.2,657.8 431.7,697.6 436.1,644.5 440.5,684.3 445.0,631.3 449.4,671.0 453.9,618.0 458.3,657.8 462.7,604.8 467.2,644.5 471.6,604.8 476.0,578.2 480.5,551.7 484.9,565.0 489.4,525.2 493.8,578.2 498.2,531.9 502.7,671.0 507.1,538.5 511.5,498.7 516.0,525.2 520.4,604.8 524.8,498.7 529.3,472.2 533.7,512.0 538.2,458.9 542.6,485.5 547.0,472.2 551.5,512.0 555.9,538.5 560.3,624.6 564.8,432.4 567.8,431.5 570.8,408.3 575.0,412.0 579.2,430.1 583.4,423.0 587.6,391.4 591.0,392.0 594.3,408.3 598.3,420.0 602.2,398.6 606.1,408.3 610.3,399.1 614.5,374.6 617.9,379.4 621.2,399.9 625.2,433.2 629.1,430.1 633.0,458.7 637.2,440.4 641.4,408.3 644.8,422.9 648.2,458.7 651.5,444.5 654.9,408.3 659.4,384.2 663.9,383.9 668.4,357.8 672.3,341.8 676.2,359.3 680.1,341.0 684.1,338.0 688.0,359.9 691.9,357.8 696.1,341.8 700.3,349.4 704.5,369.8 708.7,364.5 712.1,348.7 715.5,357.8 720.5,358.0 725.6,344.3 729.8,338.2 734.0,357.8 738.2,382.7 742.4,379.7 746.6,359.0 750.8,357.8 755.0,371.9 759.2,371.2 763.4,350.8 767.6,349.4 770.0,348.3 775.0,323.0 778.4,345.7 781.8,341.5 785.1,318.9 788.5,319.7 792.7,339.3 796.9,331.4 801.1,310.0 805.3,314.6 809.5,327.9 813.7,331.4 817.1,321.1 820.5,321.3 824.7,330.2 828.9,319.7 833.1,322.4 837.3,343.2 841.5,359.6 845.7,361.7 849.9,337.2 854.1,323.0 857.5,328.7 860.9,319.7 864.2,319.4 867.6,331.4 871.8,338.4 876.0,334.8 881.1,342.5 886.1,361.7 890.3,352.5 894.5,328.1 898.7,310.3 902.9,311.2 907.1,317.8 911.3,307.9 914.7,310.8 918.1,331.4 921.4,340.9 924.8,341.5 928.2,324.3 931.5,319.7 934.9,330.1 938.3,331.4 943.3,331.1 948.4,348.3 952.6,353.3 956.8,339.9 960.1,318.0 963.5,314.6 966.9,339.6 970.2,353.3 975.3,319.7 979.1,311.3 982.9,312.9 985.8,326.6 988.7,323.0 992.1,312.5 995.5,314.6 998.8,333.1 1002.2,334.8 1005.6,322.0 1008.9,324.7 1014.0,338.2 1017.3,341.7 1020.7,326.4 1024.1,318.1 1027.4,319.7 1031.7,350.4 1035.9,361.7 1039.2,330.9 1042.6,319.7 1046.0,324.2 1049.3,316.3 1050.0,326.5 1053.4,320.5 1056.7,331.5 1061.8,338.3 1065.7,344.6 1069.6,334.0 1073.6,338.3 1080.3,334.1 1087.0,345.0 1095.4,346.7 1103.0,324.8 1111.4,353.4 1119.8,325.6 1125.7,346.7 1132.4,327.3 1139.2,350.0 1151.0,333.2 1161.1,350.9 1167.8,353.4 1172.8,339.9 1177.9,358.5 1188.0,345.0 1198.1,329.9 1204.8,351.7 1211.5,346.7 1218.3,338.3 1223.3,353.4 1231.7,331.5 1241.8,339.9 1252.8,365.2 1262.0,324.0 1270.4,340.8 1283.9,311.3 1297.3,313.0 1307.4,308.0 1314.2,326.5 1324.3,331.5 1329.3,321.4 1330.0,321.4 1335.0,318.1 1340.1,322.3 1346.8,319.8 1353.6,326.5 1360.3,302.9 1368.7,301.2 1378.8,306.3 1385.5,319.8 1391.4,307.1 1395.6,316.4 1404.0,301.2 1410.8,306.3 1417.5,318.1 1422.5,319.8 1427.6,336.6 1432.6,335.7 1439.4,331.5 1446.1,339.9 1452.8,321.4 1456.2,336.6 1461.2,333.2 1469.7,350.0 1476.4,346.7 1481.4,343.3 1488.2,345.0 1496.6,334.1 1505.0,333.2 1511.7,343.3 1520.1,331.5 1531.9,331.5 1537.0,339.9 1542.0,329.0 1550.4,351.7 1559.7,328.2 1565.6,334.1 1572.3,334.9 1579.0,346.7 1585.8,346.7 1590.8,333.2 1597.5,338.3" fill="none" stroke="#2fa566" stroke-width="3.2" stroke-linejoin="round" stroke-linecap="butt"/>
<polyline points="267.5,1133.7 285.2,1132.6 294.1,1117.8 303.0,1111.1 311.9,1103.2 320.7,1097.9 325.2,1082.0 329.6,1055.5 334.1,1029.0 338.5,1002.4 342.9,1015.7 347.4,975.9 351.8,936.2 356.2,883.1 360.7,843.4 365.1,869.9 369.6,816.9 374.0,836.7 378.4,803.6 382.9,816.9 387.3,790.3 391.7,803.6 396.2,737.3 400.6,1078.0 405.0,750.6 409.5,697.6 413.9,737.3 418.4,677.7 422.8,671.0 427.2,710.8 431.7,644.5 436.1,737.3 440.5,671.0 445.0,724.1 449.4,604.8 453.9,671.0 458.3,644.5 462.7,750.6 467.2,671.0 471.6,737.3 476.0,631.3 480.5,578.2 484.9,604.8 489.4,531.9 493.8,591.5 498.2,525.2 502.7,578.2 507.1,512.0 511.5,551.7 516.0,472.2 520.4,538.5 524.8,485.5 529.3,512.0 533.7,445.7 538.2,498.7 542.6,458.9 547.0,512.0 551.5,472.2 555.9,525.2 560.3,512.0 564.8,458.9 569.2,472.2 573.7,512.0 575.8,470.0 580.9,452.0 584.2,471.9 587.6,470.0 594.3,384.7 599.4,408.3 602.7,421.4 606.1,448.6 610.3,468.7 614.5,455.4 618.7,419.6 622.9,409.9 626.3,422.3 629.7,408.3 633.4,368.0 637.2,347.7 641.4,441.9 645.6,436.7 649.9,416.7 654.9,382.0 659.9,379.7 665.0,375.3 670.0,341.0 675.1,391.4 680.1,394.8 685.2,524.5 691.9,367.9 695.3,349.3 698.6,347.7 702.0,371.2 705.4,371.2 708.7,352.2 712.1,357.8 716.0,357.0 720.0,315.9 723.9,315.7 728.9,357.8 734.0,367.9 737.3,347.7 742.4,371.2 747.4,377.4 752.5,354.4 755.9,336.9 759.2,349.4 762.6,347.3 766.0,327.5 770.0,469.7 776.7,395.4 781.8,354.6 786.8,336.5 790.2,353.1 793.6,348.3 796.9,324.2 800.3,319.7 804.5,344.9 808.7,360.0 813.7,314.6 818.8,331.4 823.8,314.6 828.9,326.4 833.9,304.7 839.0,302.8 843.2,339.2 847.4,356.7 850.8,326.1 854.1,311.2 859.2,322.5 864.2,312.9 869.3,297.7 874.3,297.8 879.4,294.4 884.4,306.2 887.8,335.1 891.2,353.3 896.2,323.0 899.6,303.1 902.9,302.8 906.3,328.9 909.7,338.2 914.7,307.6 919.8,294.4 924.8,307.9 929.0,303.2 933.2,287.7 937.4,296.3 941.6,321.3 946.7,297.8 950.0,297.0 953.4,274.2 956.8,257.4 960.1,262.4 963.5,269.9 966.9,260.8 970.2,250.5 973.6,252.4 977.0,269.3 980.3,267.5 983.7,241.9 987.1,238.9 990.4,247.3 993.8,233.8 997.2,238.5 1000.5,262.4 1005.6,243.9 1008.9,265.3 1012.3,264.1 1016.9,268.8 1021.6,287.7 1024.5,267.1 1027.4,233.8 1030.8,231.3 1034.2,250.7 1039.2,255.7 1043.4,260.8 1047.6,247.3 1050.0,252.0 1053.0,247.0 1056.0,253.2 1059.6,266.7 1063.2,268.8 1066.8,253.9 1070.4,256.8 1075.2,261.6 1080.0,237.6 1088.4,236.4 1094.4,244.8 1100.4,242.4 1104.0,247.2 1110.0,244.8 1115.4,234.0 1119.6,250.8 1124.4,248.4 1128.0,266.4 1132.8,250.8 1136.4,262.8 1141.2,264.0 1148.4,262.8 1152.0,240.0 1158.0,240.0 1162.8,261.6 1167.6,252.0 1174.8,252.0 1179.6,244.8 1184.4,240.0 1188.0,256.8 1192.8,271.2 1201.2,271.8 1206.0,271.2 1210.8,258.0 1215.6,258.0 1221.6,272.4 1226.4,256.8 1228.8,271.2 1233.6,250.8 1238.4,247.2 1243.2,254.4 1249.2,247.2 1253.6,244.0 1260.3,255.8 1268.7,260.9 1282.2,233.9 1292.3,259.2 1302.4,239.0 1307.4,249.1 1310.8,235.6 1315.9,269.3 1320.9,237.3 1329.3,257.5 1330.0,252.4 1333.4,244.0 1338.4,255.8 1342.6,244.0 1350.2,260.9 1359.4,244.9 1364.5,264.2 1369.5,255.8 1373.7,259.2 1378.8,242.4 1388.9,237.3 1397.3,239.0 1404.0,243.2 1414.1,237.3 1422.5,239.0 1429.3,241.5 1436.0,237.3 1442.7,240.7 1449.5,237.3 1457.9,239.0 1464.6,240.7 1476.4,241.5 1484.8,239.0 1493.2,242.4 1503.3,239.8 1510.0,235.6 1518.5,237.3 1528.6,242.4 1537.0,239.0 1548.7,241.5 1562.2,240.7 1572.3,237.3 1579.0,241.5 1587.4,239.0 1597.5,240.7" fill="none" stroke="#cc9900" stroke-width="5.4" stroke-opacity="0.33" stroke-linejoin="round"/>
<polyline points="267.5,1133.7 285.2,1132.6 294.1,1117.8 303.0,1111.1 311.9,1103.2 320.7,1097.9 325.2,1082.0 329.6,1055.5 334.1,1029.0 338.5,1002.4 342.9,1015.7 347.4,975.9 351.8,936.2 356.2,883.1 360.7,843.4 365.1,869.9 369.6,816.9 374.0,836.7 378.4,803.6 382.9,816.9 387.3,790.3 391.7,803.6 396.2,737.3 400.6,1078.0 405.0,750.6 409.5,697.6 413.9,737.3 418.4,677.7 422.8,671.0 427.2,710.8 431.7,644.5 436.1,737.3 440.5,671.0 445.0,724.1 449.4,604.8 453.9,671.0 458.3,644.5 462.7,750.6 467.2,671.0 471.6,737.3 476.0,631.3 480.5,578.2 484.9,604.8 489.4,531.9 493.8,591.5 498.2,525.2 502.7,578.2 507.1,512.0 511.5,551.7 516.0,472.2 520.4,538.5 524.8,485.5 529.3,512.0 533.7,445.7 538.2,498.7 542.6,458.9 547.0,512.0 551.5,472.2 555.9,525.2 560.3,512.0 564.8,458.9 569.2,472.2 573.7,512.0 575.8,470.0 580.9,452.0 584.2,471.9 587.6,470.0 594.3,384.7 599.4,408.3 602.7,421.4 606.1,448.6 610.3,468.7 614.5,455.4 618.7,419.6 622.9,409.9 626.3,422.3 629.7,408.3 633.4,368.0 637.2,347.7 641.4,441.9 645.6,436.7 649.9,416.7 654.9,382.0 659.9,379.7 665.0,375.3 670.0,341.0 675.1,391.4 680.1,394.8 685.2,524.5 691.9,367.9 695.3,349.3 698.6,347.7 702.0,371.2 705.4,371.2 708.7,352.2 712.1,357.8 716.0,357.0 720.0,315.9 723.9,315.7 728.9,357.8 734.0,367.9 737.3,347.7 742.4,371.2 747.4,377.4 752.5,354.4 755.9,336.9 759.2,349.4 762.6,347.3 766.0,327.5 770.0,469.7 776.7,395.4 781.8,354.6 786.8,336.5 790.2,353.1 793.6,348.3 796.9,324.2 800.3,319.7 804.5,344.9 808.7,360.0 813.7,314.6 818.8,331.4 823.8,314.6 828.9,326.4 833.9,304.7 839.0,302.8 843.2,339.2 847.4,356.7 850.8,326.1 854.1,311.2 859.2,322.5 864.2,312.9 869.3,297.7 874.3,297.8 879.4,294.4 884.4,306.2 887.8,335.1 891.2,353.3 896.2,323.0 899.6,303.1 902.9,302.8 906.3,328.9 909.7,338.2 914.7,307.6 919.8,294.4 924.8,307.9 929.0,303.2 933.2,287.7 937.4,296.3 941.6,321.3 946.7,297.8 950.0,297.0 953.4,274.2 956.8,257.4 960.1,262.4 963.5,269.9 966.9,260.8 970.2,250.5 973.6,252.4 977.0,269.3 980.3,267.5 983.7,241.9 987.1,238.9 990.4,247.3 993.8,233.8 997.2,238.5 1000.5,262.4 1005.6,243.9 1008.9,265.3 1012.3,264.1 1016.9,268.8 1021.6,287.7 1024.5,267.1 1027.4,233.8 1030.8,231.3 1034.2,250.7 1039.2,255.7 1043.4,260.8 1047.6,247.3 1050.0,252.0 1053.0,247.0 1056.0,253.2 1059.6,266.7 1063.2,268.8 1066.8,253.9 1070.4,256.8 1075.2,261.6 1080.0,237.6 1088.4,236.4 1094.4,244.8 1100.4,242.4 1104.0,247.2 1110.0,244.8 1115.4,234.0 1119.6,250.8 1124.4,248.4 1128.0,266.4 1132.8,250.8 1136.4,262.8 1141.2,264.0 1148.4,262.8 1152.0,240.0 1158.0,240.0 1162.8,261.6 1167.6,252.0 1174.8,252.0 1179.6,244.8 1184.4,240.0 1188.0,256.8 1192.8,271.2 1201.2,271.8 1206.0,271.2 1210.8,258.0 1215.6,258.0 1221.6,272.4 1226.4,256.8 1228.8,271.2 1233.6,250.8 1238.4,247.2 1243.2,254.4 1249.2,247.2 1253.6,244.0 1260.3,255.8 1268.7,260.9 1282.2,233.9 1292.3,259.2 1302.4,239.0 1307.4,249.1 1310.8,235.6 1315.9,269.3 1320.9,237.3 1329.3,257.5 1330.0,252.4 1333.4,244.0 1338.4,255.8 1342.6,244.0 1350.2,260.9 1359.4,244.9 1364.5,264.2 1369.5,255.8 1373.7,259.2 1378.8,242.4 1388.9,237.3 1397.3,239.0 1404.0,243.2 1414.1,237.3 1422.5,239.0 1429.3,241.5 1436.0,237.3 1442.7,240.7 1449.5,237.3 1457.9,239.0 1464.6,240.7 1476.4,241.5 1484.8,239.0 1493.2,242.4 1503.3,239.8 1510.0,235.6 1518.5,237.3 1528.6,242.4 1537.0,239.0 1548.7,241.5 1562.2,240.7 1572.3,237.3 1579.0,241.5 1587.4,239.0 1597.5,240.7" fill="none" stroke="#cc9900" stroke-width="3.2" stroke-linejoin="round" stroke-linecap="butt"/>
<polyline points="267.5,1133.7 285.2,1133.0 294.1,1124.4 303.0,1119.1 311.9,1117.8 316.3,1120.4 320.7,1105.8 325.2,1082.0 329.6,1042.2 334.1,1022.3 338.5,994.5 342.9,991.8 347.4,962.7 351.8,909.6 356.2,869.9 360.7,896.4 365.1,956.0 369.6,856.6 374.0,913.6 378.4,830.1 382.9,815.5 387.3,816.9 391.7,815.5 396.2,810.2 400.6,856.6 405.0,907.0 409.5,869.9 413.9,896.4 418.4,777.1 422.8,677.7 427.2,737.3 431.7,819.5 436.1,697.6 440.5,644.5 445.0,724.1 449.4,657.8 453.9,618.0 458.3,684.3 462.7,591.5 467.2,737.3 471.6,631.3 476.0,578.2 480.5,538.5 484.9,591.5 489.4,518.6 493.8,604.8 498.2,551.7 502.7,624.6 507.1,538.5 511.5,462.9 516.0,512.0 520.4,569.0 524.8,485.5 529.3,441.7 533.7,472.2 538.2,472.2 542.6,432.4 547.0,485.5 551.5,512.0 555.9,551.7 560.3,604.8 564.0,470.0 569.1,345.2 572.4,382.5 575.8,404.9 578.8,384.8 581.7,391.4 584.6,387.0 587.6,356.1 592.6,408.3 596.0,450.3 601.1,357.8 604.4,362.3 607.8,379.7 611.2,372.7 614.5,348.5 617.9,346.1 621.2,367.9 624.6,376.7 628.0,357.8 632.2,341.0 638.1,438.6 641.4,367.9 645.6,408.3 649.9,331.7 652.8,346.9 655.7,383.0 659.5,371.0 663.3,334.2 666.7,322.7 670.0,341.0 674.3,334.3 678.5,307.3 683.5,334.2 686.4,323.7 689.4,330.9 694.4,349.4 698.6,315.7 703.7,341.0 707.9,297.2 710.8,336.3 713.8,354.4 718.8,288.8 723.9,286.3 728.9,290.5 734.0,344.3 737.3,344.5 740.7,362.8 744.1,356.2 747.4,324.1 751.7,325.4 755.9,344.3 760.9,342.0 766.0,315.7 770.0,314.6 775.0,301.2 780.1,289.4 783.5,288.8 786.8,314.6 791.9,309.6 796.1,299.4 800.3,267.5 805.3,282.6 809.1,271.1 812.9,275.9 815.9,289.1 818.8,287.7 822.2,270.5 825.5,269.2 828.9,280.3 832.3,281.0 836.0,253.7 839.8,238.9 842.8,262.7 845.7,272.5 850.8,287.7 855.8,311.2 859.2,288.0 862.5,274.2 866.8,269.3 871.0,243.9 874.3,259.3 877.7,284.3 882.7,270.9 887.8,287.7 890.7,271.2 893.7,243.9 897.9,287.7 902.1,284.7 906.3,297.8 909.2,279.0 912.2,243.1 915.1,243.3 918.1,264.1 922.3,284.3 926.9,286.8 931.5,270.9 934.9,270.5 938.3,284.3 943.3,297.8 948.4,264.1 952.1,265.2 955.9,249.0 958.9,248.6 961.8,259.1 965.6,274.6 969.4,281.0 973.2,260.9 977.0,260.8 979.9,254.3 982.9,235.5 985.8,237.2 988.7,250.7 992.1,248.3 995.5,225.4 998.8,229.3 1002.2,245.6 1005.6,264.9 1008.9,265.8 1014.0,248.3 1019.0,243.9 1024.1,252.4 1027.4,266.7 1030.8,270.9 1035.0,259.4 1039.2,260.8 1043.4,257.7 1047.6,235.5 1050.0,225.6 1053.6,219.1 1057.2,221.4 1061.7,243.1 1066.2,253.2 1071.4,232.8 1079.4,289.8 1087.8,274.8 1093.8,310.2 1098.0,216.0 1102.8,203.4 1107.6,242.4 1114.8,279.6 1120.8,256.8 1124.4,262.8 1128.0,214.8 1132.8,202.8 1138.8,264.0 1144.8,242.4 1149.6,228.0 1154.4,228.0 1158.6,242.4 1164.0,295.2 1168.2,247.2 1172.4,228.0 1177.8,259.2 1182.0,232.8 1191.6,222.0 1195.8,272.4 1199.4,247.2 1204.8,271.2 1209.0,220.8 1214.4,247.2 1220.4,252.0 1226.4,242.4 1236.0,271.2 1242.0,256.8 1249.2,276.0 1254.4,245.7 1260.3,254.1 1267.1,276.0 1272.1,233.9 1280.5,218.8 1288.9,227.2 1297.3,223.8 1307.4,217.1 1315.9,220.5 1320.9,232.3 1329.3,233.9 1330.0,231.4 1338.4,228.9 1348.5,236.5 1360.3,237.3 1368.7,231.4 1375.4,235.6 1380.5,233.9 1385.5,237.3 1392.3,234.8 1402.4,239.0 1407.4,237.3 1413.3,226.4 1419.2,235.6 1429.3,236.5 1437.7,226.4 1444.4,228.9 1452.8,232.3 1457.9,236.5 1469.7,238.1 1478.1,237.3 1484.8,226.4 1496.6,230.6 1506.7,230.6 1515.1,226.4 1525.2,229.7 1540.3,230.6 1548.7,228.9 1565.6,228.1 1582.4,229.7 1597.5,228.9" fill="none" stroke="#00cccc" stroke-width="5.4" stroke-opacity="0.33" stroke-linejoin="round"/>
<polyline points="267.5,1133.7 285.2,1133.0 294.1,1124.4 303.0,1119.1 311.9,1117.8 316.3,1120.4 320.7,1105.8 325.2,1082.0 329.6,1042.2 334.1,1022.3 338.5,994.5 342.9,991.8 347.4,962.7 351.8,909.6 356.2,869.9 360.7,896.4 365.1,956.0 369.6,856.6 374.0,913.6 378.4,830.1 382.9,815.5 387.3,816.9 391.7,815.5 396.2,810.2 400.6,856.6 405.0,907.0 409.5,869.9 413.9,896.4 418.4,777.1 422.8,677.7 427.2,737.3 431.7,819.5 436.1,697.6 440.5,644.5 445.0,724.1 449.4,657.8 453.9,618.0 458.3,684.3 462.7,591.5 467.2,737.3 471.6,631.3 476.0,578.2 480.5,538.5 484.9,591.5 489.4,518.6 493.8,604.8 498.2,551.7 502.7,624.6 507.1,538.5 511.5,462.9 516.0,512.0 520.4,569.0 524.8,485.5 529.3,441.7 533.7,472.2 538.2,472.2 542.6,432.4 547.0,485.5 551.5,512.0 555.9,551.7 560.3,604.8 564.0,470.0 569.1,345.2 572.4,382.5 575.8,404.9 578.8,384.8 581.7,391.4 584.6,387.0 587.6,356.1 592.6,408.3 596.0,450.3 601.1,357.8 604.4,362.3 607.8,379.7 611.2,372.7 614.5,348.5 617.9,346.1 621.2,367.9 624.6,376.7 628.0,357.8 632.2,341.0 638.1,438.6 641.4,367.9 645.6,408.3 649.9,331.7 652.8,346.9 655.7,383.0 659.5,371.0 663.3,334.2 666.7,322.7 670.0,341.0 674.3,334.3 678.5,307.3 683.5,334.2 686.4,323.7 689.4,330.9 694.4,349.4 698.6,315.7 703.7,341.0 707.9,297.2 710.8,336.3 713.8,354.4 718.8,288.8 723.9,286.3 728.9,290.5 734.0,344.3 737.3,344.5 740.7,362.8 744.1,356.2 747.4,324.1 751.7,325.4 755.9,344.3 760.9,342.0 766.0,315.7 770.0,314.6 775.0,301.2 780.1,289.4 783.5,288.8 786.8,314.6 791.9,309.6 796.1,299.4 800.3,267.5 805.3,282.6 809.1,271.1 812.9,275.9 815.9,289.1 818.8,287.7 822.2,270.5 825.5,269.2 828.9,280.3 832.3,281.0 836.0,253.7 839.8,238.9 842.8,262.7 845.7,272.5 850.8,287.7 855.8,311.2 859.2,288.0 862.5,274.2 866.8,269.3 871.0,243.9 874.3,259.3 877.7,284.3 882.7,270.9 887.8,287.7 890.7,271.2 893.7,243.9 897.9,287.7 902.1,284.7 906.3,297.8 909.2,279.0 912.2,243.1 915.1,243.3 918.1,264.1 922.3,284.3 926.9,286.8 931.5,270.9 934.9,270.5 938.3,284.3 943.3,297.8 948.4,264.1 952.1,265.2 955.9,249.0 958.9,248.6 961.8,259.1 965.6,274.6 969.4,281.0 973.2,260.9 977.0,260.8 979.9,254.3 982.9,235.5 985.8,237.2 988.7,250.7 992.1,248.3 995.5,225.4 998.8,229.3 1002.2,245.6 1005.6,264.9 1008.9,265.8 1014.0,248.3 1019.0,243.9 1024.1,252.4 1027.4,266.7 1030.8,270.9 1035.0,259.4 1039.2,260.8 1043.4,257.7 1047.6,235.5 1050.0,225.6 1053.6,219.1 1057.2,221.4 1061.7,243.1 1066.2,253.2 1071.4,232.8 1079.4,289.8 1087.8,274.8 1093.8,310.2 1098.0,216.0 1102.8,203.4 1107.6,242.4 1114.8,279.6 1120.8,256.8 1124.4,262.8 1128.0,214.8 1132.8,202.8 1138.8,264.0 1144.8,242.4 1149.6,228.0 1154.4,228.0 1158.6,242.4 1164.0,295.2 1168.2,247.2 1172.4,228.0 1177.8,259.2 1182.0,232.8 1191.6,222.0 1195.8,272.4 1199.4,247.2 1204.8,271.2 1209.0,220.8 1214.4,247.2 1220.4,252.0 1226.4,242.4 1236.0,271.2 1242.0,256.8 1249.2,276.0 1254.4,245.7 1260.3,254.1 1267.1,276.0 1272.1,233.9 1280.5,218.8 1288.9,227.2 1297.3,223.8 1307.4,217.1 1315.9,220.5 1320.9,232.3 1329.3,233.9 1330.0,231.4 1338.4,228.9 1348.5,236.5 1360.3,237.3 1368.7,231.4 1375.4,235.6 1380.5,233.9 1385.5,237.3 1392.3,234.8 1402.4,239.0 1407.4,237.3 1413.3,226.4 1419.2,235.6 1429.3,236.5 1437.7,226.4 1444.4,228.9 1452.8,232.3 1457.9,236.5 1469.7,238.1 1478.1,237.3 1484.8,226.4 1496.6,230.6 1506.7,230.6 1515.1,226.4 1525.2,229.7 1540.3,230.6 1548.7,228.9 1565.6,228.1 1582.4,229.7 1597.5,228.9" fill="none" stroke="#00cccc" stroke-width="3.2" stroke-linejoin="round" stroke-linecap="butt"/>
</g>
<text x="245.5" y="0" font-size="59" text-anchor="end" textLength="71.5" lengthAdjust="spacingAndGlyphs" transform="translate(0,1153.2) scale(1,1.025)">0.0</text>
<text x="245.5" y="0" font-size="59" text-anchor="end" textLength="71.5" lengthAdjust="spacingAndGlyphs" transform="translate(0,888.1) scale(1,1.025)">0.2</text>
<text x="245.5" y="0" font-size="59" text-anchor="end" textLength="71.5" lengthAdjust="spacingAndGlyphs" transform="translate(0,623.0) scale(1,1.025)">0.4</text>
<text x="245.5" y="0" font-size="59" text-anchor="end" textLength="71.5" lengthAdjust="spacingAndGlyphs" transform="translate(0,357.8) scale(1,1.025)">0.6</text>
<text x="245.5" y="0" font-size="59" text-anchor="end" textLength="71.5" lengthAdjust="spacingAndGlyphs" transform="translate(0,92.7) scale(1,1.025)">0.8</text>
<text x="267.5" y="0" font-size="59" text-anchor="middle" transform="translate(0,1214.8) scale(1,1.005)">0</text>
<text x="489.4" y="0" font-size="59" text-anchor="middle" transform="translate(0,1214.8) scale(1,1.005)">50</text>
<text x="711.2" y="0" font-size="59" text-anchor="middle" transform="translate(0,1214.8) scale(1,1.005)">100</text>
<text x="933.1" y="0" font-size="59" text-anchor="middle" transform="translate(0,1214.8) scale(1,1.005)">150</text>
<text x="1154.9" y="0" font-size="59" text-anchor="middle" transform="translate(0,1214.8) scale(1,1.005)">200</text>
<text x="1376.8" y="0" font-size="59" text-anchor="middle" transform="translate(0,1214.8) scale(1,1.005)">250</text>
<text x="1598.6" y="0" font-size="59" text-anchor="middle" transform="translate(0,1214.8) scale(1,1.005)">300</text>
<text x="934.5" y="0" font-size="72" text-anchor="middle" textLength="172" lengthAdjust="spacingAndGlyphs" transform="translate(0,1319.8) scale(1,1.03)">epoch</text>
<text transform="translate(107,581.5) rotate(-90)" font-size="72" text-anchor="middle" textLength="301" lengthAdjust="spacingAndGlyphs">mAP@0.5</text>
<rect x="958" y="629.0" width="128.6" height="3.0" fill="#f3e6fa"/>
<rect x="958" y="632.0" width="128.6" height="3.0" fill="#b46ee0"/>
<rect x="958" y="635.0" width="128.6" height="3.0" fill="#f3e6fa"/>
<text x="1098.5" y="652.2" font-size="56">RcpVGG-YOLOv5</text>
<rect x="958" y="698.0" width="128.6" height="3.0" fill="#a6ecec"/>
<rect x="958" y="701.0" width="128.6" height="3.4" fill="#00cccc"/>
<rect x="958" y="704.4" width="128.6" height="2.0" fill="#ecfbfb"/>
<text x="1098.5" y="720.8" font-size="56">YOLOv8</text>
<rect x="958" y="768.0" width="128.6" height="3.0" fill="#dcb94e"/>
<rect x="958" y="771.0" width="128.6" height="3.0" fill="#cf9f10"/>
<text x="1098.5" y="789.4" font-size="56">YOLOv7</text>
<rect x="958" y="837.0" width="128.6" height="6.2" fill="#777777"/>
<text x="1098.5" y="858.0" font-size="56">YOLOv5s</text>
<rect x="958" y="906.0" width="128.6" height="3.0" fill="#f05050"/>
<rect x="958" y="909.0" width="128.6" height="3.2" fill="#f99292"/>
<text x="1098.5" y="926.6" font-size="56">YOLOv3</text>
<rect x="958" y="972.2" width="128.6" height="2.8" fill="#f1faf5"/>
<rect x="958" y="975.0" width="128.6" height="3.1" fill="#2fa566"/>
<rect x="958" y="978.1" width="128.6" height="3.0" fill="#a9dcc1"/>
<text x="1098.5" y="995.2" font-size="56">YOLOv5-RepVGG</text>
<rect x="958" y="1041.0" width="128.6" height="3.0" fill="#d6e4f9"/>
<rect x="958" y="1044.0" width="128.6" height="3.2" fill="#1c65dc"/>
<rect x="958" y="1047.2" width="128.6" height="3.0" fill="#d6e4f9"/>
<text x="1098.5" y="1063.8" font-size="56">SSD-VGG</text>
</svg></body></html>
